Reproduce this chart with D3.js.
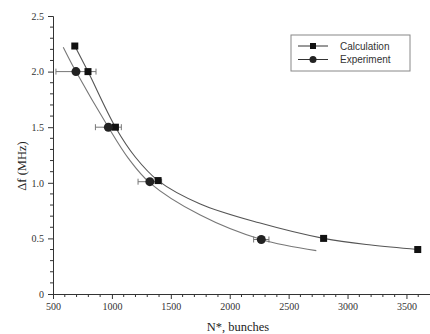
<!DOCTYPE html>
<html>
<head>
<meta charset="utf-8">
<script src="https://cdn.jsdelivr.net/npm/d3@7"></script>
<style>
  body { margin: 0; background: #fff; }
  .tick-label { font-family: "Liberation Serif", "DejaVu Serif", serif; font-size: 10px; fill: #333; }
  .title { font-family: "Liberation Serif", "DejaVu Serif", serif; font-size: 12.5px; fill: #222; }
  .legend text { font-family: "Liberation Sans", Arial, sans-serif; font-size: 10px; fill: #333; }
</style>
</head>
<body>
<div id="chart"></div>
<script>
// measured points
var calcX = [685, 797, 1030, 1392, 2797, 3596];
var calcY = [2.23, 2.0, 1.5, 1.02, 0.5, 0.4];

var expX = [695, 970, 1322, 2268];
var expY = [2.0, 1.5, 1.01, 0.49];
var expErr = [170, 110, 100, 65];

// fitted curves
var calcFitX = [685, 797, 1030, 1200, 1392, 1750, 2250, 2797, 3200, 3596];
var calcFitY = [2.23, 2.0, 1.5, 1.23, 1.02, 0.81, 0.64, 0.50, 0.44, 0.40];
var expFitX = [587, 695, 970, 1140, 1322, 1750, 2268, 2735];
var expFitY = [2.22, 2.0, 1.5, 1.22, 1.0, 0.71, 0.49, 0.39];

var xTicks = [500, 1000, 1500, 2000, 2500, 3000, 3500];
var yTicks = [0, 0.5, 1.0, 1.5, 2.0, 2.5];
var yTickLabels = ["0", "0.5", "1.0", "1.5", "2.0", "2.5"];

function init() {
    var width = 430;
    var height = 334;

    var x = d3.scaleLinear().domain([500, 3700]).range([53, 430]);
    var y = d3.scaleLinear().domain([0, 2.5]).range([294, 16]);

    var svg = d3.select("#chart")
        .append("svg")
        .attr("width", width)
        .attr("height", height);

    // x axis with minor ticks every 100
    var xAxis = svg.append("g")
        .attr("transform", "translate(0," + y(0) + ")")
        .call(d3.axisBottom(x).tickValues(xTicks).tickSize(5).tickPadding(4).tickFormat(d3.format("d")));
    xAxis.select(".domain").attr("stroke", "#333");
    xAxis.selectAll(".tick line").attr("stroke", "#333");
    xAxis.selectAll(".tick text").attr("class", "tick-label");

    var xMinor = d3.range(600, 3700, 100).filter(function (d) { return d % 500 != 0; });
    svg.append("g").selectAll("line")
        .data(xMinor)
        .enter().append("line")
        .attr("x1", function (d) { return x(d); })
        .attr("x2", function (d) { return x(d); })
        .attr("y1", y(0))
        .attr("y2", y(0) + 3)
        .attr("stroke", "#333");

    // y axis with minor ticks every 0.1
    var yAxis = svg.append("g")
        .attr("transform", "translate(" + x(500) + ",0)")
        .call(d3.axisLeft(y).tickValues(yTicks).tickSize(5).tickPadding(4)
            .tickFormat(function (d, i) { return yTickLabels[i]; }));
    yAxis.select(".domain").attr("stroke", "#333");
    yAxis.selectAll(".tick line").attr("stroke", "#333");
    yAxis.selectAll(".tick text").attr("class", "tick-label");

    var yMinor = d3.range(1, 25).map(function (d) { return d / 10; }).filter(function (d, i) { return (i + 1) % 5 != 0; });
    svg.append("g").selectAll("line")
        .data(yMinor)
        .enter().append("line")
        .attr("x1", x(500) - 3)
        .attr("x2", x(500))
        .attr("y1", function (d) { return y(d); })
        .attr("y2", function (d) { return y(d); })
        .attr("stroke", "#333");

    // axis titles
    svg.append("text")
        .attr("class", "title")
        .attr("transform", "translate(26,166) rotate(-90)")
        .attr("text-anchor", "middle")
        .text("Δf (MHz)");

    svg.append("text")
        .attr("class", "title")
        .attr("x", 238)
        .attr("y", 331)
        .attr("text-anchor", "middle")
        .text("N*, bunches");

    // fit curves
    var line = d3.line()
        .x(function (d) { return x(d[0]); })
        .y(function (d) { return y(d[1]); })
        .curve(d3.curveCatmullRom);

    svg.append("path")
        .datum(d3.zip(calcFitX, calcFitY))
        .attr("d", line)
        .attr("fill", "none")
        .attr("stroke", "#555")
        .attr("stroke-width", 1.1);

    svg.append("path")
        .datum(d3.zip(expFitX, expFitY))
        .attr("d", line)
        .attr("fill", "none")
        .attr("stroke", "#777")
        .attr("stroke-width", 1.1);

    // error bars
    var expData = d3.zip(expX, expY, expErr);
    var err = svg.append("g").selectAll("g")
        .data(expData)
        .enter().append("g")
        .attr("stroke", "#777")
        .attr("stroke-width", 1);
    err.append("line")
        .attr("x1", function (d) { return x(d[0] - d[2]); })
        .attr("x2", function (d) { return x(d[0] + d[2]); })
        .attr("y1", function (d) { return y(d[1]); })
        .attr("y2", function (d) { return y(d[1]); });
    err.append("line")
        .attr("x1", function (d) { return x(d[0] - d[2]); })
        .attr("x2", function (d) { return x(d[0] - d[2]); })
        .attr("y1", function (d) { return y(d[1]) - 3; })
        .attr("y2", function (d) { return y(d[1]) + 3; });
    err.append("line")
        .attr("x1", function (d) { return x(d[0] + d[2]); })
        .attr("x2", function (d) { return x(d[0] + d[2]); })
        .attr("y1", function (d) { return y(d[1]) - 3; })
        .attr("y2", function (d) { return y(d[1]) + 3; });

    // markers
    svg.append("g").selectAll("rect")
        .data(d3.zip(calcX, calcY))
        .enter().append("rect")
        .attr("x", function (d) { return x(d[0]) - 3.5; })
        .attr("y", function (d) { return y(d[1]) - 3.5; })
        .attr("width", 7)
        .attr("height", 7)
        .attr("fill", "#111");

    svg.append("g").selectAll("circle")
        .data(expData)
        .enter().append("circle")
        .attr("cx", function (d) { return x(d[0]); })
        .attr("cy", function (d) { return y(d[1]); })
        .attr("r", 4.5)
        .attr("fill", "#222");

    // legend
    var legend = svg.append("g").attr("class", "legend");
    legend.append("rect")
        .attr("x", 291).attr("y", 35)
        .attr("width", 119).attr("height", 36)
        .attr("fill", "#fff")
        .attr("stroke", "#888");

    var items = ["Calculation", "Experiment"];
    items.forEach(function (name, i) {
        var ly = 46 + i * 13.5;
        legend.append("line")
            .attr("x1", 298).attr("x2", 328)
            .attr("y1", ly).attr("y2", ly)
            .attr("stroke", "#333");
        if (i == 0) {
            legend.append("rect")
                .attr("x", 310).attr("y", ly - 3)
                .attr("width", 6).attr("height", 6)
                .attr("fill", "#111");
        } else {
            legend.append("circle")
                .attr("cx", 313).attr("cy", ly)
                .attr("r", 3.5)
                .attr("fill", "#222");
        }
        legend.append("text")
            .attr("x", 340).attr("y", ly + 3.5)
            .text(name);
    });
}

window.onload = init;
</script>
</body>
</html>
